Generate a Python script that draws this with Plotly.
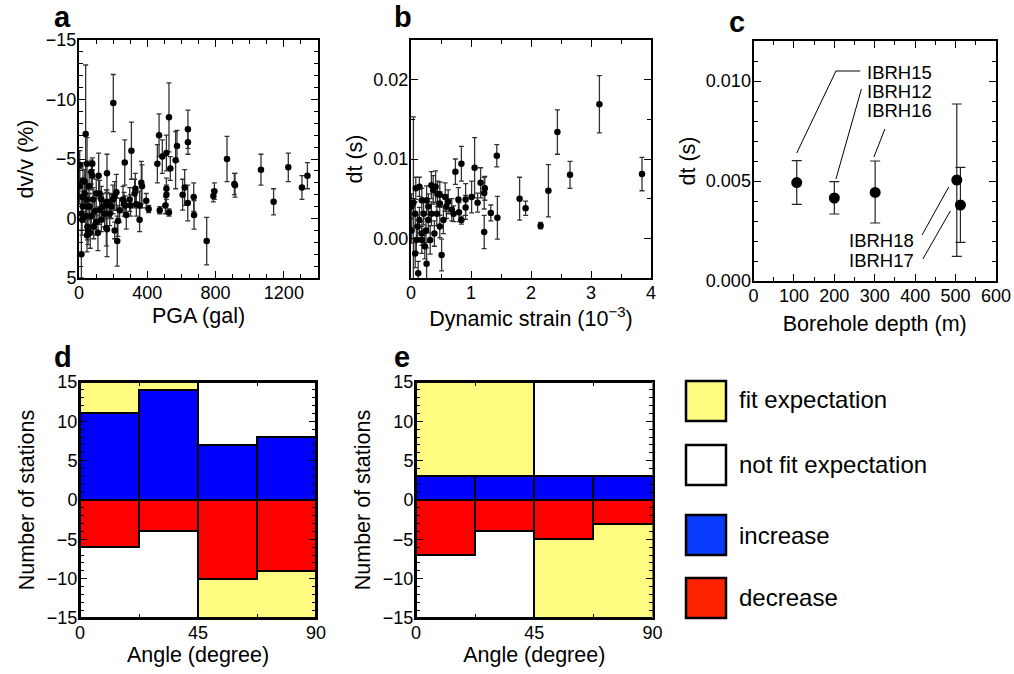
import plotly.graph_objects as go

# ---------------- Panel a data: PGA (gal) vs dv/v (%) ----------------
pga = [201, 39, 307, 268, 469, 527, 638, 638, 574, 488, 459, 512, 566, 535, 867, 1066, 1226, 1338,
       1306, 1140, 914, 910, 793, 787, 748, 672, 674, 637, 607, 619, 512, 512, 506, 527, 473, 408,
       394, 365, 369, 355, 355, 336, 330, 326, 302, 297, 271, 277, 264, 228, 224, 209, 219, 209,
       189, 180, 164, 164, 160, 150, 160, 115, 78, 78, 47, 72, 59, 23, 4, 14, 18, 47, 53, 101,
       111, 92, 121, 131, 43, 33, 23, 62, 82, 101, 121, 14, 39, 72, 49, 66, 86, 141, 131, 4,
       20, 33, 53, 199, 180, 238, 258, 164]
dvv = [-9.7, -7.1, -5.7, -4.7, -7.0, -8.5, -7.5, -6.4, -6.1, -5.2, -4.6, -5.5, -4.9, -4.2, -5.0,
       -4.1, -4.3, -3.6, -2.6, -1.4, -2.8, -2.9, -2.3, -1.9, 1.9, -1.8, -0.3, -1.3, -2.0, -2.6,
       -2.5, -2.0, -1.1, -0.5, -0.7, -0.8, -1.5, -3.0, -2.7, 0.1, -1.1, -1.2, -2.5, -2.1, -1.1,
       -1.6, -1.1, -0.3, -1.2, 0.2, 1.9, 1.0, -2.2, -1.9, -1.0, -0.4, -1.4, -3.8, -1.2, -0.4,
       0.8, -3.6, -4.6, -3.6, -4.6, -3.9, -2.7, -3.2, -4.5, 3.0, 0.1, 1.4, 1.0, 0.3, 1.2, -0.6,
       -0.7, -1.6, -1.6, -2.1, -1.0, -1.0, -1.6, -2.1, -2.1, -0.4, -0.2, -0.2, 0.7, 1.2, 0.7,
       -1.0, 0.1, -2.7, -1.8, -3.1, -1.0, -1.6, -1.1, -0.7, -1.6, 0.9]
dvv_err = [2.4, 5.8, 2.4, 1.9, 1.8, 2.9, 1.6, 1.0, 1.3, 1.4, 1.6, 1.5, 2.4, 1.0, 1.9, 1.3, 1.2, 1.1,
           1.0, 1.1, 1.0, 0.9, 0.7, 0.5, 2.0, 1.2, 1.2, 1.5, 1.3, 1.5, 0.9, 0.8, 0.7, 0.3, 0.3,
           0.3, 0.6, 1.8, 1.8, 1.0, 1.2, 1.0, 1.3, 1.2, 0.9, 1.0, 0.8, 1.2, 1.0, 1.3, 2.1, 0.7,
           1.5, 1.2, 1.0, 1.0, 1.0, 1.6, 1.2, 1.1, 1.5, 1.9, 0.5, 1.2, 2.2, 1.0, 1.2, 1.5, 1.2,
           2.0, 1.3, 1.4, 1.2, 1.1, 1.5, 1.0, 1.2, 1.1, 1.2, 1.0, 1.3, 1.1, 1.0, 1.2, 1.1, 1.4,
           1.2, 1.0, 1.1, 1.3, 1.0, 1.1, 1.0, 1.5, 1.2, 1.0, 1.1, 1.2, 1.0, 1.0, 1.1, 2.3]
dvv_ticks = [-15, -10, -5, 0, 5]

# ---------------- Panel b data: dynamic strain (1e-3) vs dt (s) ----------------
strain = [3.14, 2.44, 2.65, 3.85, 2.29, 2.16, 1.91, 1.81, 1.43, 1.44, 1.33, 1.22, 1.22, 1.23, 1.16,
          1.06, 1.01, 1.11, 0.84, 0.74, 0.91, 0.91, 0.84, 0.79, 0.80, 0.71, 0.59, 0.51, 0.57, 0.48,
          0.44, 0.37, 0.41, 0.34, 0.29, 0.26, 0.43, 0.48, 0.39, 0.32, 0.26, 0.23, 0.18, 0.14, 0.11,
          0.07, 0.12, 0.14, 0.08, 0.04, 0.01, 0.18, 0.21, 0.29, 0.34, 0.18, 0.09, 0.25, 0.54, 0.48,
          0.62, 0.68, 0.01, 0.07]
dt_b = [0.0169, 0.0134, 0.0080, 0.0081, 0.0060, 0.0016, 0.0038, 0.0050, 0.0104, 0.0026, 0.0032,
        0.0008, 0.0057, 0.0063, 0.0070, 0.0089, 0.0052, 0.0045, 0.0094, 0.0084, 0.0049, 0.0039,
        0.0023, 0.0049, 0.0033, 0.0031, 0.0040, -0.0021, 0.0052, 0.0044, 0.0056, 0.0061, 0.0065,
        0.0067, 0.0040, 0.0048, 0.0031, 0.0015, 0.0006, -0.0002, -0.0032, -0.0010, 0.0006,
        0.0023, 0.0015, -0.0019, -0.0044, 0.0065, 0.0063, 0.0045, 0.0040, 0.0048, 0.0031,
        0.0023, 0.0031, -0.0002, -0.0002, 0.0010, 0.0023, 0.0055, 0.0046, 0.0036, 0.0010, 0.0031]
dt_b_err = [0.0036, 0.0028, 0.0017, 0.0021, 0.0033, 0.0004, 0.0009, 0.0027, 0.0014, 0.0027,
            0.0010, 0.0021, 0.0020, 0.0015, 0.0019, 0.0038, 0.0020, 0.0012, 0.0022, 0.0016,
            0.0020, 0.0015, 0.0005, 0.0015, 0.0012, 0.0010, 0.0015, 0.0020, 0.0018, 0.0015,
            0.0016, 0.0018, 0.0020, 0.0017, 0.0016, 0.0018, 0.0015, 0.0014, 0.0016, 0.0018,
            0.0020, 0.0016, 0.0015, 0.0016, 0.0014, 0.0018, 0.0015, 0.0012, 0.0014, 0.0108,
            0.0016, 0.0015, 0.0014, 0.0016, 0.0015, 0.0017, 0.0016, 0.0015, 0.0017, 0.0016,
            0.0015, 0.0014, 0.0016, 0.0015]

# ---------------- Panel c data: borehole depth vs dt ----------------
stations = ["IBRH15", "IBRH12", "IBRH16", "IBRH18", "IBRH17"]
depth = [107, 200, 301, 503, 512]
dt_c = [0.00492, 0.00415, 0.00443, 0.00505, 0.00380]
dt_c_up = [0.00110, 0.00082, 0.00157, 0.00380, 0.00188]
dt_c_dn = [0.00109, 0.00080, 0.00153, 0.00382, 0.00187]
leader_x = [[107, 204, 264], [204, 267], [298, 325], [483, 417], [487, 419]]
leader_y = [[0.0064, 0.0105, 0.0105], [0.0051, 0.0096], [0.0062, 0.0076], [0.0047, 0.0023], [0.0035, 0.0011]]
label_x = [276, 276, 276, 402, 402]
label_y = [0.01045, 0.0095, 0.00855, 0.00205, 0.00105]
label_anchor = ["left", "left", "left", "right", "right"]

# ---------------- Panels d, e: histograms ----------------
bin_edges = [0, 22.5, 45, 67.5, 90]
d_increase = [11, 14, 7, 8]
d_decrease = [-6, -4, -10, -9]
e_increase = [3, 3, 3, 3]
e_decrease = [-7, -4, -5, -3]
half_edges = [0, 45, 90]
top_status = ["fit", "not fit"]      # upper half: 0-45, 45-90
bottom_status = ["not fit", "fit"]   # lower half
count_limit = 15
count_ticks = [-15, -10, -5, 0, 5, 10, 15]

legend_labels = ["fit expectation", "not fit expectation", "increase", "decrease"]

FONT = "Liberation Sans, Arial, Helvetica, sans-serif"
YELLOW = "#FFFA80"
BLUE = "#0000FF"
RED = "#FF0000"
status_color = {"fit": YELLOW, "not fit": "#FFFFFF"}
TICK_SIZE = 18
TITLE_SIZE = 21.5

W, H = 1014, 674


def px_x(p):
    return p / W


def px_y(p):
    return 1 - p / H


def minus_text(vals):
    return [str(v).replace("-", "\u2212") for v in vals]


fig = go.Figure()

err_style = dict(type="data", color="#333333", thickness=1.3, width=2.5)

# Panel a
fig.add_trace(go.Scatter(x=pga, y=dvv, mode="markers", xaxis="x", yaxis="y",
                         marker=dict(color="black", size=6.5),
                         error_y=dict(array=dvv_err, **err_style), showlegend=False))
# Panel b
fig.add_trace(go.Scatter(x=strain, y=dt_b, mode="markers", xaxis="x2", yaxis="y2",
                         marker=dict(color="black", size=6.5),
                         error_y=dict(array=dt_b_err, **err_style), showlegend=False))
# Panel c leader lines
for lx, ly in zip(leader_x, leader_y):
    fig.add_trace(go.Scatter(x=lx, y=ly, mode="lines", xaxis="x3", yaxis="y3",
                             line=dict(color="black", width=1), showlegend=False, hoverinfo="skip"))
fig.add_trace(go.Scatter(x=depth, y=dt_c, mode="markers", xaxis="x3", yaxis="y3",
                         marker=dict(color="black", size=11),
                         error_y=dict(type="data", array=dt_c_up, arrayminus=dt_c_dn,
                                      color="#222222", thickness=1.2, width=5),
                         showlegend=False))

# Panels d, e
half_centers = [(half_edges[i] + half_edges[i + 1]) / 2 for i in range(2)]
half_width = half_edges[1] - half_edges[0]
bin_centers = [(bin_edges[i] + bin_edges[i + 1]) / 2 for i in range(4)]
bin_width = bin_edges[1] - bin_edges[0]

for xa, ya, inc, dec in [("x4", "y4", d_increase, d_decrease), ("x5", "y5", e_increase, e_decrease)]:
    fig.add_trace(go.Bar(x=half_centers, y=[count_limit] * 2, base=0, width=half_width,
                         marker=dict(color=[status_color[s] for s in top_status],
                                     line=dict(color="black", width=2)),
                         xaxis=xa, yaxis=ya, showlegend=False))
    fig.add_trace(go.Bar(x=half_centers, y=[-count_limit] * 2, base=0, width=half_width,
                         marker=dict(color=[status_color[s] for s in bottom_status],
                                     line=dict(color="black", width=2)),
                         xaxis=xa, yaxis=ya, showlegend=False))
    fig.add_trace(go.Bar(x=bin_centers, y=inc, base=0, width=bin_width,
                         marker=dict(color=BLUE, line=dict(color="black", width=2)),
                         xaxis=xa, yaxis=ya, showlegend=False))
    fig.add_trace(go.Bar(x=bin_centers, y=dec, base=0, width=bin_width,
                         marker=dict(color=RED, line=dict(color="black", width=2)),
                         xaxis=xa, yaxis=ya, showlegend=False))


def axis(domain, rng, dtick, minor_dtick, title=None, standoff=8, tickvals=None, ticktext=None,
         anchor=None, **kw):
    d = dict(domain=domain, range=rng, showline=True, linecolor="black", linewidth=2,
             mirror="allticks", ticks="inside", ticklen=7, tickwidth=1.3, tickcolor="black",
             showgrid=False, zeroline=False, anchor=anchor, automargin=False,
             ticklabelstandoff=-3,
             tickfont=dict(size=TICK_SIZE, color="black", family=FONT),
             minor=dict(ticks="inside", ticklen=4, tickwidth=1, tickcolor="black", dtick=minor_dtick,
                        showgrid=False))
    if tickvals is not None:
        d["tickmode"] = "array"
        d["tickvals"] = tickvals
        if ticktext is not None:
            d["ticktext"] = ticktext
    else:
        d["dtick"] = dtick
        d["tick0"] = 0
    if title:
        d["title"] = dict(text=title, font=dict(size=TITLE_SIZE, color="black", family=FONT),
                          standoff=standoff)
    d.update(kw)
    return d


top_y = [px_y(278), px_y(40)]
bot_y = [px_y(618), px_y(382)]

layout = dict(
    width=W, height=H, margin=dict(l=0, r=0, t=0, b=0, autoexpand=False),
    plot_bgcolor="white", paper_bgcolor="white", barmode="overlay", bargap=0,
    font=dict(family=FONT, color="black"),
    xaxis=axis([px_x(79), px_x(318)], [0, 1400], 400, 100, "PGA (gal)", anchor="y", standoff=6),
    yaxis=axis(top_y, [5, -15], 5, 1, "dv/v (%)", anchor="x", standoff=6,
               tickvals=dvv_ticks, ticktext=minus_text(dvv_ticks)),
    xaxis2=axis([px_x(411), px_x(651)], [0, 4], 1, 0.5, "Dynamic strain (10<sup>−3</sup>)", anchor="y2",
                standoff=6),
    yaxis2=axis(top_y, [-0.005, 0.025], 0.01, 0.005, "dt (s)", anchor="x2", tickformat=".2f",
                tickvals=[0.0, 0.01, 0.02], standoff=5),
    xaxis3=axis([px_x(753.5), px_x(996)], [0, 600], 100, 50, "Borehole depth (m)", anchor="y3",
                standoff=11),
    yaxis3=axis([px_y(281), px_y(41)], [0, 0.012], 0.005, 0.001, "dt (s)", anchor="x3",
                tickformat=".3f", standoff=4),
    xaxis4=axis([px_x(80), px_x(316)], [0, 90], 45, 22.5, "Angle (degree)", anchor="y4", standoff=4),
    yaxis4=axis(bot_y, [-15, 15], 5, 1, "Number of stations", anchor="x4", standoff=6,
                tickvals=count_ticks, ticktext=minus_text(count_ticks)),
    xaxis5=axis([px_x(416), px_x(652.5)], [0, 90], 45, 22.5, "Angle (degree)", anchor="y5", standoff=4),
    yaxis5=axis(bot_y, [-15, 15], 5, 1, "Number of stations", anchor="x5", standoff=6,
                tickvals=count_ticks, ticktext=minus_text(count_ticks)),
)
fig.update_layout(**layout)
fig.update_xaxes(layer="above traces")
fig.update_yaxes(layer="above traces")

annotations = []
# Panel letters
for letter, xp, yp in [("a", 52, 28), ("b", 392, 28), ("c", 727, 33), ("d", 52, 368), ("e", 392, 368)]:
    annotations.append(dict(text="<b>%s</b>" % letter, x=px_x(xp), y=px_y(yp), xref="paper", yref="paper",
                            xanchor="left", yanchor="bottom", showarrow=False,
                            font=dict(size=29, family=FONT, color="black"), yshift=-7))
# Station labels in c
for name, lx, ly, anc in zip(stations, label_x, label_y, label_anchor):
    annotations.append(dict(text=name, x=lx, y=ly, xref="x3", yref="y3", xanchor=anc, yanchor="middle",
                            showarrow=False, font=dict(size=18.5, family=FONT, color="black")))

# Legend boxes
legend_fill = [YELLOW, "#FFFFFF", "#0A3CFF", "#FF2400"]
box_tops = [381, 445, 515, 578]
text_centers = [400, 464, 535, 597]
shapes = []
for lab, col, bt, tc in zip(legend_labels, legend_fill, box_tops, text_centers):
    shapes.append(dict(type="rect", xref="paper", yref="paper", x0=px_x(686), x1=px_x(726),
                       y0=px_y(bt + 40), y1=px_y(bt), fillcolor=col, line=dict(color="black", width=2.5)))
    annotations.append(dict(text=lab, x=px_x(737), y=px_y(tc), xref="paper", yref="paper",
                            xanchor="left", yanchor="middle", showarrow=False,
                            font=dict(size=24, family=FONT, color="black")))

fig.update_layout(annotations=annotations, shapes=shapes)
fig.write_html("out.html", config={"displayModeBar": False},
               post_script="document.body.style.margin='0';document.body.style.overflow='hidden';")
